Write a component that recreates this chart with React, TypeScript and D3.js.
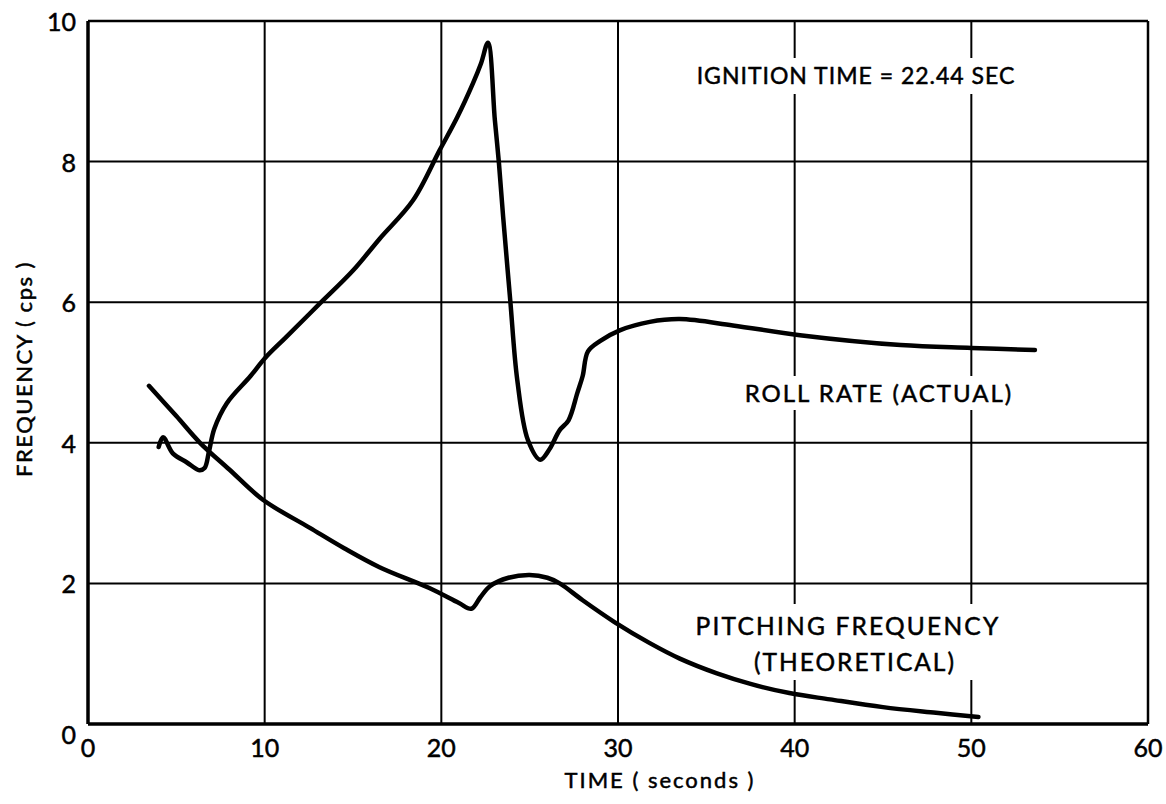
import * as d3 from "d3";

type Pt = [number, number];

const xTicks = [0, 10, 20, 30, 40, 50, 60];
const yTicks = [0, 2, 4, 6, 8, 10];

// roll rate (actual), time in s, frequency in cps
const rollRate: Pt[] = [
  [4.0, 3.94], [4.25, 4.08], [4.8, 3.85], [5.6, 3.72], [6.3, 3.61], [6.6, 3.64],
  [6.85, 3.88], [7.15, 4.2], [7.85, 4.56], [9.2, 4.95], [10.0, 5.2], [11.2, 5.5],
  [13.0, 5.95], [15.0, 6.45], [16.5, 6.9], [18.4, 7.45], [19.9, 8.16], [20.9, 8.63],
  [21.8, 9.12], [22.25, 9.4], [22.64, 9.69], [23.03, 8.59], [23.26, 7.98], [23.5, 7.21],
  [23.9, 6.03], [24.3, 4.89], [24.9, 4.04], [25.6, 3.76], [26.1, 3.9], [26.7, 4.18],
  [27.2, 4.32], [27.7, 4.71], [28.0, 4.95], [28.3, 5.3], [29.0, 5.45], [30.1, 5.6],
  [31.8, 5.72], [33.5, 5.76], [36.5, 5.67], [40.3, 5.53], [46.0, 5.39], [50.0, 5.35],
  [53.6, 5.32],
];

// pitching frequency (theoretical)
const pitching: Pt[] = [
  [3.45, 4.81], [5.0, 4.38], [6.34, 4.0], [8.0, 3.62], [9.9, 3.19], [12.56, 2.79],
  [14.5, 2.5], [16.5, 2.23], [19.35, 1.93], [21.0, 1.72], [21.7, 1.64], [22.2, 1.8],
  [22.75, 1.96], [23.8, 2.08], [25.0, 2.12], [26.0, 2.08], [26.7, 2.0], [28.0, 1.76],
  [29.8, 1.45], [31.8, 1.15], [33.5, 0.93], [35.6, 0.72], [37.5, 0.57], [39.7, 0.44],
  [42.0, 0.35], [45.0, 0.24], [48.0, 0.16], [50.4, 0.1],
];

const W = 1166;
const H = 804;
const m = { left: 88, right: 18, top: 21, bottom: 80 };
const font = "Lato, 'DejaVu Sans', sans-serif";

export default function App() {
  const x = d3.scaleLinear().domain([0, 60]).range([m.left, W - m.right]);
  const y = d3.scaleLinear().domain([0, 10]).range([H - m.bottom, m.top]);
  const line = d3
    .line<Pt>()
    .x((d) => x(d[0]))
    .y((d) => y(d[1]))
    .curve(d3.curveCatmullRom.alpha(0.5));

  // white patches where the notes sit over the grid
  const notes = [
    { x0: 690, x1: 1022, y0: 58, y1: 94 },
    { x0: 742, x1: 1016, y0: 376, y1: 410 },
    { x0: 690, x1: 1006, y0: 604, y1: 680 },
  ];

  const txt = { stroke: "#000", strokeWidth: 0.5 };

  return (
    <svg
      width={W}
      height={H}
      style={{ position: "absolute", left: 0, top: 0, background: "#fff" }}
      fontFamily={font}
    >
      {/* grid */}
      {xTicks.slice(1, -1).map((t) => (
        <line key={"gx" + t} x1={x(t)} x2={x(t)} y1={y(0)} y2={y(10)} stroke="#000" strokeWidth={2} />
      ))}
      {yTicks.slice(1, -1).map((t) => (
        <line key={"gy" + t} x1={x(0)} x2={x(60)} y1={y(t)} y2={y(t)} stroke="#000" strokeWidth={2} />
      ))}
      {notes.map((n, i) => (
        <rect key={i} x={n.x0} y={n.y0} width={n.x1 - n.x0} height={n.y1 - n.y0} fill="#fff" />
      ))}
      {/* frame */}
      <line x1={x(0)} x2={x(60)} y1={y(10)} y2={y(10)} stroke="#000" strokeWidth={2.5} />
      <line x1={x(60)} x2={x(60)} y1={y(0)} y2={y(10)} stroke="#000" strokeWidth={2.5} />
      <line x1={x(0)} x2={x(60)} y1={y(0)} y2={y(0)} stroke="#000" strokeWidth={3.5} />
      <line x1={x(0)} x2={x(0)} y1={y(0)} y2={y(10)} stroke="#000" strokeWidth={3.5} />

      {/* curves */}
      <path d={line(rollRate) ?? ""} fill="none" stroke="#000" strokeWidth={4.5} strokeLinejoin="round" strokeLinecap="round" />
      <path d={line(pitching) ?? ""} fill="none" stroke="#000" strokeWidth={4.5} strokeLinejoin="round" strokeLinecap="round" />

      {/* tick labels */}
      {yTicks.map((t) => (
        <text
          key={"ly" + t}
          x={x(0) - 12}
          y={y(t) + (t === 0 ? 10 : 0)}
          textAnchor="end"
          dominantBaseline="central"
          fontSize={25}
          {...txt}
        >
          {t}
        </text>
      ))}
      {xTicks.map((t) => (
        <text key={"lx" + t} x={x(t)} y={y(0) + 33} textAnchor="middle" fontSize={25} {...txt}>
          {t}
        </text>
      ))}

      {/* axis titles */}
      <text x={660} y={788} textAnchor="middle" fontSize={22} letterSpacing={2} {...txt}>
        TIME ( seconds )
      </text>
      <text
        transform={`translate(32, ${y(5.05)}) rotate(-90)`}
        textAnchor="middle"
        fontSize={22}
        letterSpacing={1.5}
        {...txt}
      >
        FREQUENCY ( cps )
      </text>

      {/* notes */}
      <text x={856} y={84} textAnchor="middle" fontSize={23} letterSpacing={1} {...txt}>
        IGNITION TIME = 22.44 SEC
      </text>
      <text x={879} y={402} textAnchor="middle" fontSize={24} letterSpacing={2} {...txt}>
        ROLL RATE (ACTUAL)
      </text>
      <text x={848} y={635} textAnchor="middle" fontSize={24.5} letterSpacing={2.2} {...txt}>
        PITCHING FREQUENCY
      </text>
      <text x={855} y={671} textAnchor="middle" fontSize={24.5} letterSpacing={2} {...txt}>
        (THEORETICAL)
      </text>
    </svg>
  );
}
